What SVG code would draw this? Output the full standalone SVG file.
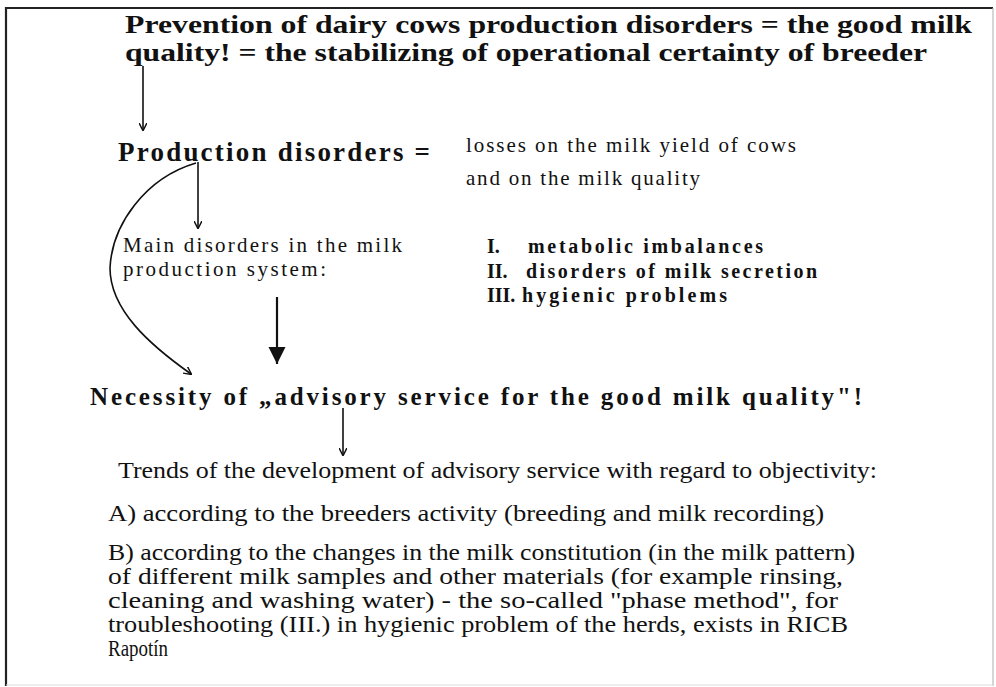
<svg xmlns="http://www.w3.org/2000/svg" width="996" height="687" viewBox="0 0 996 687">
  <style>
    .serif { font-family: "Liberation Serif", "Times New Roman", serif; fill: #111; }
    .b { font-weight: bold; }
    .line { stroke: #111; stroke-width: 1.6; fill: none; }
    .thick { stroke: #111; stroke-width: 2.2; fill: none; }
  </style>
  <defs>
    <marker id="arrow" viewBox="0 0 10 10" refX="9" refY="5" markerWidth="8" markerHeight="8" markerUnits="userSpaceOnUse" orient="auto">
      <path d="M0,0 L10,5 L0,10" fill="none" stroke="#111" stroke-width="1.8"/>
    </marker>
    <marker id="arrowBig" viewBox="0 0 10 10" refX="10" refY="5" markerWidth="17" markerHeight="21" markerUnits="userSpaceOnUse" orient="auto">
      <path d="M0,0 L10,5 L0,10 Z" fill="#111"/>
    </marker>
  </defs>

  <rect width="996" height="687" fill="#fff"/>
  <!-- outer frame -->
  <path d="M6,686 L6,8 L993,8" fill="none" stroke="#222" stroke-width="2.2"/>
  <path d="M993,8 L993,686" fill="none" stroke="#bbb" stroke-width="1.2"/>
  <path d="M6,685 L993,685" fill="none" stroke="#ddd" stroke-width="1"/>

  <g id="title" class="serif b">
    <text x="125" y="33" font-size="25.5" textLength="847" lengthAdjust="spacingAndGlyphs">Prevention of dairy cows production disorders = the good milk</text>
    <text x="125" y="61" font-size="25.5" textLength="802" lengthAdjust="spacingAndGlyphs">quality! = the stabilizing of operational certainty of breeder</text>
  </g>

  <g id="production-disorders" class="serif b">
    <text x="118" y="161" font-size="27" textLength="312" lengthAdjust="spacing">Production disorders =</text>
  </g>

  <g id="losses" class="serif">
    <text x="466" y="152" font-size="21" textLength="330" lengthAdjust="spacing">losses on the milk yield of cows</text>
    <text x="466" y="185" font-size="21" textLength="234" lengthAdjust="spacing">and on the milk quality</text>
  </g>

  <g id="main-disorders" class="serif">
    <text x="123" y="252" font-size="21" textLength="279" lengthAdjust="spacing">Main disorders in the milk</text>
    <text x="123" y="276" font-size="21" textLength="203" lengthAdjust="spacing">production system:</text>
  </g>

  <g id="disorder-list" class="serif b" font-size="20">
    <text x="487" y="253">I.</text>
    <text x="528" y="253" textLength="235" lengthAdjust="spacing">metabolic imbalances</text>
    <text x="487" y="278">II.</text>
    <text x="526" y="278" textLength="291" lengthAdjust="spacing">disorders of milk secretion</text>
    <text x="487" y="302">III.</text>
    <text x="522" y="302" textLength="205" lengthAdjust="spacing">hygienic problems</text>
  </g>

  <g id="necessity" class="serif b">
    <text x="90" y="405" font-size="25" textLength="772" lengthAdjust="spacing">Necessity of „advisory service for the good milk quality"!</text>
  </g>

  <g id="trends" class="serif" font-size="23">
    <text x="118" y="478" textLength="759" lengthAdjust="spacingAndGlyphs">Trends of the development of advisory service with regard to objectivity:</text>
    <text x="108" y="521" textLength="716" lengthAdjust="spacingAndGlyphs">A)  according to the breeders activity (breeding and milk recording)</text>
    <text x="108" y="560" textLength="747" lengthAdjust="spacingAndGlyphs">B)  according to the changes in the milk constitution (in the milk pattern)</text>
    <text x="108" y="584" textLength="735" lengthAdjust="spacingAndGlyphs">of different milk samples and other materials (for example rinsing,</text>
    <text x="108" y="608" textLength="730" lengthAdjust="spacingAndGlyphs">cleaning and washing water) - the so-called "phase method", for</text>
    <text x="108" y="632" textLength="740" lengthAdjust="spacingAndGlyphs">troubleshooting (III.) in hygienic problem of the herds, exists in RICB</text>
    <text x="108" y="656" textLength="60" lengthAdjust="spacingAndGlyphs">Rapotín</text>
  </g>

  <g id="connectors">
    <line class="line" x1="143" y1="66" x2="143" y2="130" marker-end="url(#arrow)"/>
    <line class="line" x1="198" y1="162" x2="198" y2="228" marker-end="url(#arrow)"/>
    <path class="line" d="M196,163 C145,178 112,225 110,268 C110,310 150,345 191,374" marker-end="url(#arrow)"/>
    <line class="thick" x1="277" y1="297" x2="277" y2="364" marker-end="url(#arrowBig)"/>
    <line class="line" x1="343" y1="408" x2="343" y2="455" marker-end="url(#arrow)"/>
  </g>
</svg>
